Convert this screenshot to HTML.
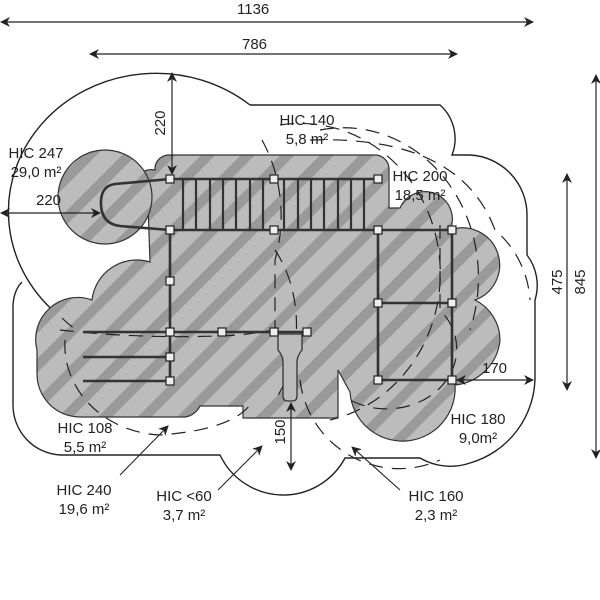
<!DOCTYPE html>
<html><head><meta charset="utf-8"><style>
html,body{margin:0;padding:0;background:#fff;}
svg{display:block;}
text{font-family:"Liberation Sans",sans-serif;font-size:15px;fill:#222;}
</style></head><body>
<svg width="600" height="600" viewBox="0 0 600 600" xmlns="http://www.w3.org/2000/svg">
<defs>
<pattern id="h" patternUnits="userSpaceOnUse" width="28" height="28" patternTransform="rotate(45)">
<rect width="28" height="28" fill="#bcbcbc"/>
<rect x="0" y="0" width="10" height="28" fill="#9a9a9a"/>
</pattern>
<marker id="a" markerWidth="10" markerHeight="10" refX="9" refY="5" orient="auto-start-reverse" markerUnits="userSpaceOnUse">
<path d="M0,0 L10,5 L0,10 L3,5 Z" fill="#222"/>
</marker>
</defs>

<!-- outer solid boundary -->
<g fill="none" stroke="#222" stroke-width="1.4">
<path d="M250,105 L440,105 A45,45 0 0 1 452,155 L470,155 A60,60 0 0 1 527,215 L527,255 A50,50 0 0 1 535,300 L535,375 A90,90 0 0 1 470,463 A60,60 0 0 1 420,458 L345,458 A70,70 0 0 1 220,455 L60,455 A50,50 0 0 1 13,405 L13,305 Q14,290 22,282"/>
<path d="M62,318 A142,133 0 1 1 250,105"/>
</g>

<!-- shaded region -->
<path fill="url(#h)" stroke="#333" stroke-width="1.2" d="M168,155 L375,155 A14,14 0 0 1 389,169 L389,208 L400,208 A25,25 0 0 1 450,230 A35,35 0 0 1 475,300 A45,45 0 0 1 500,340 A50,50 0 0 1 455,385 A52,52 0 0 1 350,392 L338,370 L338,418 L243,418 L243,406 L200,406 A20,20 0 0 1 185,417 L80,417 A43,43 0 0 1 37,374 L37,350 A42,42 0 0 1 92,300 A45,45 0 0 1 150,262 L148,205 A12,12 0 0 1 155,170 A14,14 0 0 1 168,155 Z"/>
<circle cx="105" cy="197" r="47" fill="url(#h)" stroke="#333" stroke-width="1.2"/>

<!-- dashed circles -->
<g fill="none" stroke="#222" stroke-width="1.2" stroke-dasharray="14,9">
<path d="M62,318 Q70,326 80,332"/>
<path d="M262,140 A120,140 0 0 1 275,260 L275,330"/>
<path d="M280,125 A140,150 0 0 1 330,420"/>
<path d="M320,130 A135,150 0 0 1 470,330"/>
<path d="M310,140 Q460,135 495,230 A100,100 0 0 1 530,300"/>
<path d="M440,225 L440,310 A70,60 0 0 1 350,400"/>
<path d="M300,380 A100,100 0 0 0 440,460"/>
<path d="M60,330 Q150,340 240,335 L275,330"/>
<path d="M65,340 A100,90 0 0 0 160,435 Q230,430 250,405"/>
<path d="M275,250 A80,110 0 0 1 275,400"/>
</g>

<!-- structure -->
<g stroke="#333" stroke-width="2.6" fill="none">
<line x1="170" y1="179" x2="378" y2="179"/>
<line x1="170" y1="230" x2="452" y2="230"/>
<line x1="170" y1="230" x2="170" y2="381"/>
<line x1="83" y1="332" x2="307" y2="332"/>
<line x1="83" y1="357" x2="170" y2="357"/>
<line x1="83" y1="381" x2="170" y2="381"/>
<line x1="378" y1="230" x2="378" y2="380"/>
<line x1="452" y1="230" x2="452" y2="380"/>
<line x1="378" y1="303" x2="452" y2="303"/>
<line x1="378" y1="380" x2="452" y2="380"/>
<path d="M170,179 L115,184 Q100,186 101,205 Q102,224 120,226 L170,230"/>
</g>
<g stroke="#333" stroke-width="2.2">
<line x1="183" y1="179" x2="183" y2="230"/><line x1="196" y1="179" x2="196" y2="230"/>
<line x1="210" y1="179" x2="210" y2="230"/><line x1="223" y1="179" x2="223" y2="230"/>
<line x1="236" y1="179" x2="236" y2="230"/><line x1="250" y1="179" x2="250" y2="230"/>
<line x1="263" y1="179" x2="263" y2="230"/><line x1="284" y1="179" x2="284" y2="230"/>
<line x1="298" y1="179" x2="298" y2="230"/><line x1="311" y1="179" x2="311" y2="230"/>
<line x1="324" y1="179" x2="324" y2="230"/><line x1="338" y1="179" x2="338" y2="230"/>
<line x1="351" y1="179" x2="351" y2="230"/><line x1="364" y1="179" x2="364" y2="230"/>
</g>
<path d="M278,334 L302,334 L302,350 Q297,356 297,362 L297,396 Q297,401 292,401 L288,401 Q283,401 283,396 L283,362 Q283,356 278,350 Z" fill="#bbb" stroke="#333" stroke-width="1.3"/>
<g fill="#eee" stroke="#222" stroke-width="1.2">
<rect x="166" y="175" width="8" height="8"/><rect x="270" y="175" width="8" height="8"/><rect x="374" y="175" width="8" height="8"/>
<rect x="166" y="226" width="8" height="8"/><rect x="270" y="226" width="8" height="8"/><rect x="374" y="226" width="8" height="8"/><rect x="448" y="226" width="8" height="8"/>
<rect x="374" y="299" width="8" height="8"/><rect x="448" y="299" width="8" height="8"/>
<rect x="374" y="376" width="8" height="8"/><rect x="448" y="376" width="8" height="8"/>
<rect x="166" y="277" width="8" height="8"/><rect x="166" y="328" width="8" height="8"/>
<rect x="218" y="328" width="8" height="8"/><rect x="270" y="328" width="8" height="8"/><rect x="303" y="328" width="8" height="8"/>
<rect x="166" y="353" width="8" height="8"/><rect x="166" y="377" width="8" height="8"/>
</g>

<!-- dimensions -->
<g stroke="#222" stroke-width="1.2" marker-start="url(#a)" marker-end="url(#a)">
<line x1="1" y1="22" x2="533" y2="22"/>
<line x1="90" y1="54" x2="457" y2="54"/>
<line x1="172" y1="73" x2="172" y2="174"/>
<line x1="1" y1="213" x2="100" y2="213"/>
<line x1="567" y1="174" x2="567" y2="390"/>
<line x1="596" y1="75" x2="596" y2="458"/>
<line x1="291" y1="403" x2="291" y2="470"/>
<line x1="457" y1="380" x2="533" y2="380"/>
</g>
<g stroke="#222" stroke-width="1.1" marker-end="url(#a)">
<line x1="120" y1="475" x2="168" y2="426"/>
<line x1="218" y1="490" x2="262" y2="446"/>
<line x1="400" y1="490" x2="352" y2="447"/>
</g>

<text x="237" y="14">1136</text>
<text x="242" y="49">786</text>
<text transform="translate(165,123) rotate(-90)" text-anchor="middle">220</text>
<text x="36" y="205">220</text>
<text transform="translate(562,282) rotate(-90)" text-anchor="middle">475</text>
<text transform="translate(585,282) rotate(-90)" text-anchor="middle">845</text>
<text transform="translate(285,432) rotate(-90)" text-anchor="middle">150</text>
<text x="482" y="373">170</text>
<g text-anchor="middle">
<text x="36" y="158">HIC 247</text><text x="36" y="177">29,0 m²</text>
<text x="307" y="125">HIC 140</text><text x="307" y="144">5,8 m²</text>
<text x="420" y="181">HIC 200</text><text x="420" y="200">18,5 m²</text>
<text x="478" y="424">HIC 180</text><text x="478" y="443">9,0m²</text>
<text x="85" y="433">HIC 108</text><text x="85" y="452">5,5 m²</text>
<text x="84" y="495">HIC 240</text><text x="84" y="514">19,6 m²</text>
<text x="184" y="501">HIC &lt;60</text><text x="184" y="520">3,7 m²</text>
<text x="436" y="501">HIC 160</text><text x="436" y="520">2,3 m²</text>
</g>
</svg>
</body></html>
